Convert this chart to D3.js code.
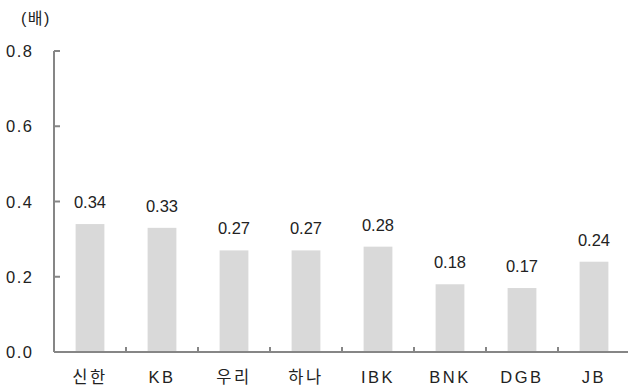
<!DOCTYPE html>
<html>
<head>
  <meta charset="utf-8">
  <script src="https://cdn.jsdelivr.net/npm/d3@7"></script>
  <style>
    body { margin: 0; background: #fff; }
    text { font-family: "Liberation Sans", "Noto Sans CJK KR", sans-serif; fill: #222; }
  </style>
</head>
<body>
<div id="chart"></div>
<script>
  var banks = ["신한", "KB", "우리", "하나", "IBK", "BNK", "DGB", "JB"];
  var ratio = [0.34, 0.33, 0.27, 0.27, 0.28, 0.18, 0.17, 0.24];
  var yTicks = [0, 0.2, 0.4, 0.6, 0.8];
  var unitLabel = "(배)";

  var width = 628, height = 388;
  var margin = {top: 51, right: -2, bottom: 36, left: 54};

  var svg = d3.select("#chart").append("svg")
    .attr("width", width)
    .attr("height", height);

  var x = d3.scaleBand()
    .domain(banks)
    .range([margin.left, width - margin.right])
    .paddingInner(0.6)
    .paddingOuter(0.3);

  var y = d3.scaleLinear()
    .domain([0, 0.8])
    .range([height - margin.bottom, margin.top]);

  // bars
  svg.selectAll("rect.bar")
    .data(ratio)
    .enter().append("rect")
    .attr("class", "bar")
    .attr("x", function(d, i) { return x(banks[i]); })
    .attr("y", function(d) { return y(d); })
    .attr("width", x.bandwidth())
    .attr("height", function(d) { return y(0) - y(d); })
    .attr("fill", "#d9d9d9");

  // value labels
  svg.selectAll("text.val")
    .data(ratio)
    .enter().append("text")
    .attr("class", "val")
    .attr("x", function(d, i) { return x(banks[i]) + x.bandwidth() / 2; })
    .attr("y", function(d) { return y(d) - 16; })
    .attr("text-anchor", "middle")
    .attr("font-size", 16.5)
    .text(function(d) { return d.toFixed(2); });

  // y axis, ticks point inward
  var axisColor = "#868686";
  svg.append("line")
    .attr("x1", margin.left).attr("x2", margin.left)
    .attr("y1", y(0.8)).attr("y2", y(0))
    .attr("stroke", axisColor).attr("stroke-width", 2);
  svg.selectAll("line.yt")
    .data(yTicks)
    .enter().append("line")
    .attr("class", "yt")
    .attr("x1", margin.left).attr("x2", margin.left + 6)
    .attr("y1", function(d) { return y(d); })
    .attr("y2", function(d) { return y(d); })
    .attr("stroke", axisColor).attr("stroke-width", 2);

  svg.selectAll("text.ytick")
    .data(yTicks)
    .enter().append("text")
    .attr("class", "ytick")
    .attr("x", 6)
    .attr("y", function(d) { return y(d) + 6; })
    .attr("font-size", 16.5)
    .attr("letter-spacing", 1.5)
    .text(function(d) { return d.toFixed(1); });

  // x axis
  var step = x.step();
  svg.append("line")
    .attr("x1", margin.left).attr("x2", width)
    .attr("y1", y(0)).attr("y2", y(0))
    .attr("stroke", axisColor).attr("stroke-width", 2);
  svg.selectAll("line.xt")
    .data(banks.slice(1))
    .enter().append("line")
    .attr("class", "xt")
    .attr("x1", function(d) { return x(d) - (step - x.bandwidth()) / 2; })
    .attr("x2", function(d) { return x(d) - (step - x.bandwidth()) / 2; })
    .attr("y1", y(0)).attr("y2", y(0) - 5)
    .attr("stroke", axisColor).attr("stroke-width", 2);

  svg.selectAll("text.cat")
    .data(banks)
    .enter().append("text")
    .attr("class", "cat")
    .attr("x", function(d) { return x(d) + x.bandwidth() / 2; })
    .attr("y", 383)
    .attr("text-anchor", "middle")
    .attr("font-size", 16.5)
    .attr("letter-spacing", 2.5)
    .text(function(d) { return d; });

  svg.append("text")
    .attr("x", 21)
    .attr("y", 24)
    .attr("font-size", 16)
    .attr("letter-spacing", 1.5)
    .text(unitLabel);
</script>
</body>
</html>
